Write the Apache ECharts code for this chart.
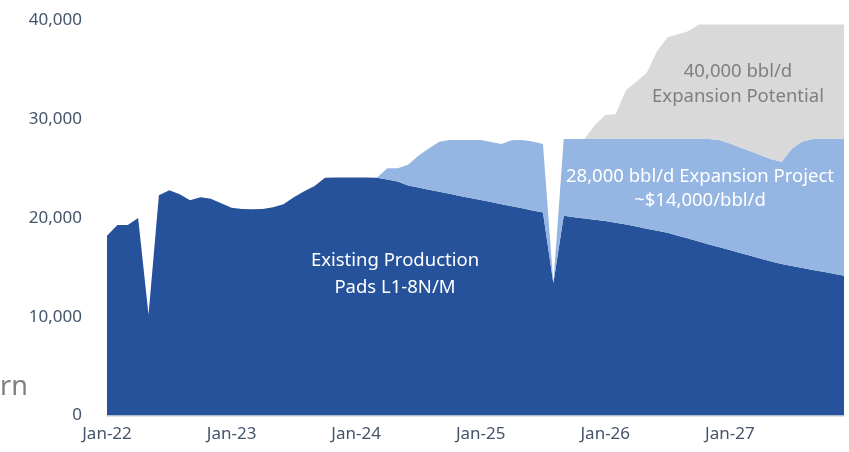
<!DOCTYPE html>
<html>
<head>
<meta charset="utf-8">
<script src="https://cdn.jsdelivr.net/npm/echarts@6/dist/echarts.min.js"></script>
<style>
html,body{margin:0;padding:0;background:#fff;}
#chart{width:849px;height:452px;}
</style>
</head>
<body>
<div id="chart"></div>
<script>
// Category labels (months Jan-22 .. Dec-27)
var years = ['22','23','24','25','26','27'];
var monthNames = ['Jan','Feb','Mar','Apr','May','Jun','Jul','Aug','Sep','Oct','Nov','Dec'];
var categories = [];
years.forEach(function(y){ monthNames.forEach(function(m){ categories.push(m + '-' + y); }); });

// Existing Production Pads L1-8N/M (bbl/d)
var existing = [
  18200,19300,19300,20000,10200,22300,22800,22400,21800,22100,21950,21500,
  21050,20900,20880,20900,21100,21400,22100,22700,23250,24080,24100,24100,
  24100,24100,24080,23900,23700,23300,23080,22870,22660,22450,22240,22030,
  21820,21610,21400,21190,20980,20770,20560,13400,20220,20080,19950,19820,
  19690,19530,19330,19130,18920,18700,18500,18200,17930,17630,17320,17030,
  16750,16460,16170,15880,15590,15330,15130,14930,14740,14550,14350,14160
];
// 28,000 bbl/d Expansion Project (incremental, stacked)
var expansionProject = [
  0,0,0,0,0,0,0,0,0,0,0,0,
  0,0,0,0,0,0,0,0,0,0,0,0,
  0,0,0,1130,1330,2090,3220,4170,5070,5450,5660,5870,
  6080,6090,6090,6680,6920,6980,6930,0,7780,7920,8050,8180,
  8310,8470,8670,8870,9080,9300,9500,9800,10070,10370,10680,10870,
  10800,10690,10580,10470,10360,10370,11920,12820,13260,13450,13650,13840
];
// 40,000 bbl/d Expansion Potential (incremental, stacked)
var expansionPotential = [
  0,0,0,0,0,0,0,0,0,0,0,0,
  0,0,0,0,0,0,0,0,0,0,0,0,
  0,0,0,0,0,0,0,0,0,0,0,0,
  0,0,0,0,0,0,0,0,0,0,0,1420,
  2430,2500,4960,5800,6700,8900,10300,10600,10900,11600,11600,11700,
  12050,12450,12850,13250,13650,13900,12550,11850,11600,11600,11600,11600
];
var yTicks = [0,10000,20000,30000,40000];

var FONT = 'Noto Sans';
var chart = echarts.init(document.getElementById('chart'), null, {renderer:'canvas'});

function areaSeries(name, data, color){
  return {
    name: name, type: 'line', stack: 'total', data: data,
    symbol: 'none', smooth: false,
    lineStyle: {width: 0, color: color},
    areaStyle: {color: color, opacity: 1},
    emphasis: {disabled: true},
    silent: true
  };
}

function label(x, y, text, color, size, lh){
  return {type:'text', x: x, y: y, z: 100,
    style:{text: text, fill: color, fontFamily: FONT, fontSize: size,
      textAlign:'center', textVerticalAlign:'top', lineHeight: lh}};
}

chart.setOption({
  animation: false,
  backgroundColor: '#ffffff',
  grid: {left: 107, right: 5, top: 20.5, bottom: 36.5, containLabel: false},
  xAxis: {
    type: 'category', data: categories, boundaryGap: false,
    axisLine: {show: true, lineStyle: {color: '#d9d9d9', width: 1.5}},
    axisTick: {show: false},
    axisLabel: {
      interval: function(i){ return i % 12 === 0; },
      color: '#44546A', fontFamily: FONT, fontSize: 17, margin: 10
    },
    splitLine: {show: false}
  },
  yAxis: {
    type: 'value', min: yTicks[0], max: yTicks[yTicks.length-1], interval: 10000,
    axisLine: {show: false}, axisTick: {show: false}, splitLine: {show: false},
    axisLabel: {
      color: '#44546A', fontFamily: FONT, fontSize: 17, margin: 25,
      formatter: function(v){ return v.toLocaleString('en-US'); }
    }
  },
  series: [
    areaSeries('Existing Production', existing, '#25529A'),
    areaSeries('28,000 bbl/d Expansion Project', expansionProject, '#95B5E3'),
    areaSeries('40,000 bbl/d Expansion Potential', expansionPotential, '#D9D9D9')
  ],
  graphic: [
    label(395, 247.5, 'Existing Production\nPads L1-8N/M', '#ffffff', 18.5, 27),
    label(700, 165, '28,000 bbl/d Expansion Project\n~$14,000/bbl/d', '#ffffff', 18.5, 24),
    label(738, 59.5, '40,000 bbl/d\nExpansion Potential', '#7F7F7F', 18.5, 25),
    {type:'text', x: 0, y: 374, z: 100, style:{text:'rn', fill:'#7F7F7F', fontFamily: FONT, fontSize: 27, textVerticalAlign:'top'}}
  ]
});
</script>
</body>
</html>
